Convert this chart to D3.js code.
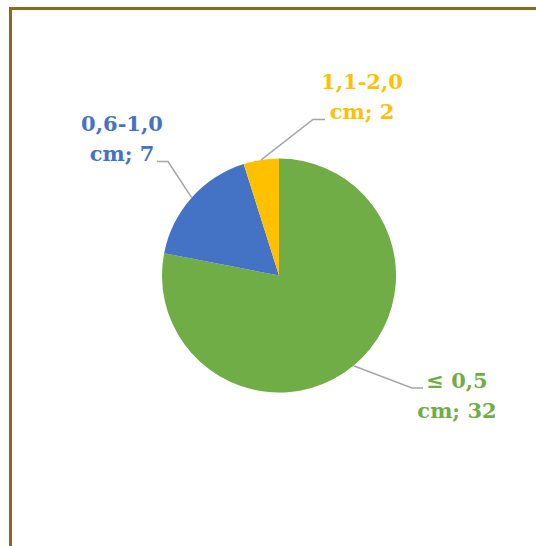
<!DOCTYPE html>
<html>
<head>
<meta charset="utf-8">
<script src="https://cdn.jsdelivr.net/npm/d3@7/dist/d3.min.js"></script>
<style>
  html, body { margin: 0; padding: 0; background: #fff; }
  svg { display: block; }
</style>
</head>
<body>
<svg id="chart" width="536" height="546"></svg>
<script>
// Crack width classes and counts
const categories = ["≤ 0,5 cm", "0,6-1,0 cm", "1,1-2,0 cm"];
const values = [32, 7, 2];
const colors = ["#70AD47", "#4472C4", "#FFC000"];

// Label placement: elbow point of the leader and label centre for each slice
const labelLayout = [
  { elbow: [412, 388], end: [423, 388], cx: 457, base: 388 },
  { elbow: [168, 161.5], end: [157, 161.5], cx: 122, base: 131 },
  { elbow: [313, 119.5], end: [325, 119.5], cx: 362, base: 89 }
];

const svg = d3.select("#chart");
const W = 536, H = 546;

// Chart frame
svg.append("path")
  .attr("d", `M10.5,${H} L10.5,8.5 L${W},8.5`)
  .attr("fill", "none")
  .attr("stroke", "#8a6c14")
  .attr("stroke-width", 3);

const cx = 279, cy = 275.5, r = 117;
const g = svg.append("g").attr("transform", `translate(${cx},${cy})`);

const pie = d3.pie().sort(null).value(d => d.value);
const data = pie(categories.map((c, i) => ({ cat: c, value: values[i], color: colors[i] })));
const arc = d3.arc().innerRadius(0).outerRadius(r);
const edge = d3.arc().innerRadius(r).outerRadius(r);

g.selectAll("path.slice")
  .data(data)
  .join("path")
  .attr("class", "slice")
  .attr("d", arc)
  .attr("fill", d => d.data.color);

// Leader lines from the slice edge to the label
data.forEach((d, i) => {
  const L = labelLayout[i];
  const mid = (d.startAngle + d.endAngle) / 2;
  const p0 = [cx + r * Math.sin(mid), cy - r * Math.cos(mid)];
  svg.append("polyline")
    .attr("points", [p0, L.elbow, L.end].map(p => p.join(",")).join(" "))
    .attr("fill", "none")
    .attr("stroke", "#A6A6A6")
    .attr("stroke-width", 1.5);
});

// Data labels: category name on two lines with value
data.forEach((d, i) => {
  const L = labelLayout[i];
  const cat = d.data.cat;
  const k = cat.lastIndexOf(" ");
  const lines = [cat.slice(0, k), cat.slice(k + 1) + "; " + d.data.value];
  const t = svg.append("text")
    .attr("text-anchor", "middle")
    .attr("font-family", "'DejaVu Serif', serif")
    .attr("font-weight", "bold")
    .attr("font-size", 21)
    .attr("fill", d.data.color);
  lines.forEach((s, j) => {
    t.append("tspan")
      .attr("x", L.cx)
      .attr("y", L.base + j * 29.5)
      .text(s);
  });
});
</script>
</body>
</html>
